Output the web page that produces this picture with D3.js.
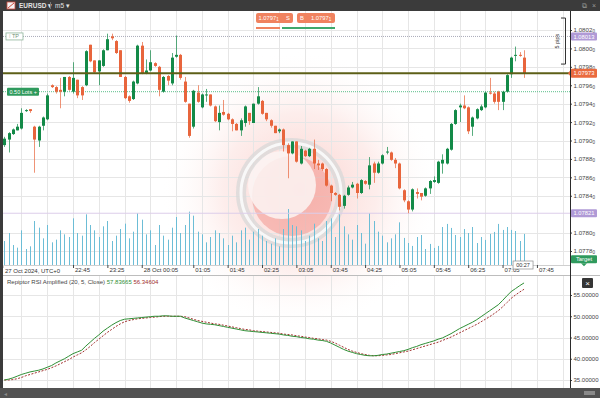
<!DOCTYPE html>
<html>
<head>
<meta charset="utf-8">
<script src="https://cdn.jsdelivr.net/npm/d3@7"></script>
<style>
  body { margin: 0; background: #fff; }
  svg { display: block; font-family: "Liberation Sans", Arial, sans-serif; }
</style>
</head>
<body>
<svg id="chart" width="600" height="398"></svg>
<script>
// EURUSD m5 candles, 27-28 Oct 2024 (UTC+0)
var symbol = 'EURUSD'
var timeframe = 'm5'
var firstCandle = '2024-10-27T21:25:00Z'

var opens = [
  1.07895, 1.07901, 1.07907, 1.07911, 1.07913, 1.07932, 1.07934, 1.07915, 1.07900, 1.07916,
  1.07923, 1.07960, 1.07958, 1.07955, 1.07953, 1.07969, 1.07953, 1.07966, 1.07958, 1.07960,
  1.08004, 1.07987, 1.07975, 1.07981, 1.07998, 1.08013, 1.08008, 1.07998, 1.07969, 1.07948,
  1.07945, 1.07962, 1.08003, 1.07973, 1.07976, 1.07984, 1.07980, 1.07953, 1.07970, 1.07962,
  1.07991, 1.07993, 1.07964, 1.07940, 1.07915, 1.07952, 1.07936, 1.07949, 1.07950, 1.07937,
  1.07920, 1.07931, 1.07929, 1.07923, 1.07918, 1.07911, 1.07919, 1.07930, 1.07919, 1.07940,
  1.07943, 1.07930, 1.07922, 1.07916, 1.07910, 1.07912, 1.07895, 1.07886, 1.07899, 1.07875,
  1.07889, 1.07883, 1.07891, 1.07875, 1.07875, 1.07869, 1.07851, 1.07843, 1.07841, 1.07829,
  1.07841, 1.07849, 1.07853, 1.07843, 1.07856, 1.07852, 1.07875, 1.07865, 1.07875, 1.07887,
  1.07887, 1.07879, 1.07875, 1.07846, 1.07834, 1.07825, 1.07844, 1.07843, 1.07840, 1.07848,
  1.07855, 1.07854, 1.07875, 1.07875, 1.07890, 1.07918, 1.07936, 1.07938, 1.07936, 1.07915,
  1.07924, 1.07933, 1.07936, 1.07952, 1.07951, 1.07953, 1.07942, 1.07953, 1.07972, 1.07992,
  1.07993, 1.07990
]
var highs = [
  1.07904, 1.07909, 1.07913, 1.07918, 1.07935, 1.07934, 1.07934, 1.07916, 1.07916, 1.07926,
  1.07951, 1.07961, 1.07959, 1.07968, 1.07969, 1.07970, 1.07985, 1.07966, 1.07959, 1.07998,
  1.08004, 1.07987, 1.07987, 1.07999, 1.08016, 1.08016, 1.08009, 1.07998, 1.07970, 1.07949,
  1.07965, 1.08004, 1.08007, 1.07988, 1.07998, 1.07985, 1.07981, 1.07970, 1.07971, 1.07995,
  1.08014, 1.07994, 1.07969, 1.07940, 1.07955, 1.07960, 1.07951, 1.07956, 1.07950, 1.07938,
  1.07938, 1.07944, 1.07930, 1.07924, 1.07919, 1.07924, 1.07938, 1.07930, 1.07940, 1.07958,
  1.07944, 1.07930, 1.07923, 1.07916, 1.07913, 1.07913, 1.07897, 1.07899, 1.07899, 1.07894,
  1.07890, 1.07892, 1.07901, 1.07879, 1.07876, 1.07870, 1.07852, 1.07844, 1.07842, 1.07841,
  1.07851, 1.07855, 1.07854, 1.07858, 1.07857, 1.07882, 1.07877, 1.07877, 1.07885, 1.07893,
  1.07888, 1.07881, 1.07876, 1.07847, 1.07835, 1.07848, 1.07848, 1.07843, 1.07849, 1.07857,
  1.07861, 1.07878, 1.07885, 1.07892, 1.07919, 1.07934, 1.07940, 1.07949, 1.07937, 1.07926,
  1.07935, 1.07939, 1.07953, 1.07968, 1.07953, 1.07954, 1.07954, 1.07972, 1.07991, 1.08002,
  1.07996, 1.07998
]
var lows = [
  1.07893, 1.07887, 1.07906, 1.07911, 1.07912, 1.07931, 1.07930, 1.07865, 1.07893, 1.07911,
  1.07922, 1.07957, 1.07951, 1.07935, 1.07948, 1.07954, 1.07951, 1.07946, 1.07944, 1.07959,
  1.07985, 1.07973, 1.07960, 1.07980, 1.07998, 1.08009, 1.07994, 1.07969, 1.07945, 1.07941,
  1.07944, 1.07961, 1.07972, 1.07972, 1.07975, 1.07980, 1.07948, 1.07952, 1.07960, 1.07960,
  1.07990, 1.07966, 1.07941, 1.07903, 1.07913, 1.07941, 1.07935, 1.07942, 1.07937, 1.07920,
  1.07911, 1.07927, 1.07922, 1.07910, 1.07911, 1.07905, 1.07915, 1.07917, 1.07919, 1.07939,
  1.07928, 1.07921, 1.07914, 1.07908, 1.07908, 1.07888, 1.07859, 1.07885, 1.07876, 1.07874,
  1.07882, 1.07882, 1.07869, 1.07868, 1.07867, 1.07850, 1.07834, 1.07840, 1.07824, 1.07826,
  1.07840, 1.07848, 1.07837, 1.07842, 1.07852, 1.07847, 1.07854, 1.07864, 1.07874, 1.07885,
  1.07878, 1.07870, 1.07847, 1.07833, 1.07821, 1.07823, 1.07837, 1.07835, 1.07839, 1.07842,
  1.07854, 1.07853, 1.07864, 1.07874, 1.07889, 1.07917, 1.07920, 1.07934, 1.07907, 1.07905,
  1.07923, 1.07932, 1.07935, 1.07950, 1.07940, 1.07933, 1.07933, 1.07952, 1.07968, 1.07986,
  1.07991, 1.07968
]
var closes = [
  1.07902, 1.07908, 1.07912, 1.07915, 1.07930, 1.07933, 1.07932, 1.07901, 1.07915, 1.07925,
  1.07949, 1.07958, 1.07953, 1.07953, 1.07969, 1.07955, 1.07968, 1.07949, 1.07949, 1.07997,
  1.07986, 1.07974, 1.07987, 1.07998, 1.08010, 1.08011, 1.07995, 1.07969, 1.07946, 1.07943,
  1.07964, 1.08003, 1.07973, 1.07976, 1.07985, 1.07981, 1.07955, 1.07969, 1.07965, 1.07990,
  1.07993, 1.07968, 1.07942, 1.07905, 1.07954, 1.07942, 1.07950, 1.07950, 1.07938, 1.07921,
  1.07930, 1.07928, 1.07923, 1.07918, 1.07911, 1.07922, 1.07937, 1.07921, 1.07940, 1.07948,
  1.07929, 1.07923, 1.07916, 1.07908, 1.07912, 1.07895, 1.07886, 1.07899, 1.07877, 1.07891,
  1.07883, 1.07891, 1.07875, 1.07873, 1.07869, 1.07851, 1.07843, 1.07841, 1.07828, 1.07840,
  1.07849, 1.07852, 1.07843, 1.07857, 1.07853, 1.07873, 1.07865, 1.07875, 1.07884, 1.07888,
  1.07879, 1.07875, 1.07848, 1.07835, 1.07825, 1.07847, 1.07842, 1.07839, 1.07848, 1.07856,
  1.07857, 1.07877, 1.07879, 1.07891, 1.07918, 1.07933, 1.07938, 1.07935, 1.07910, 1.07925,
  1.07934, 1.07937, 1.07952, 1.07951, 1.07942, 1.07942, 1.07953, 1.07971, 1.07990, 1.07993,
  1.07992, 1.07973
]
// tick volume
var volumes = [
  180, 240, 150, 130, 260, 120, 140, 330, 280, 200, 300, 170, 190, 260, 230, 210,
  350, 240, 220, 380, 300, 260, 210, 290, 330, 180, 220, 270, 310, 200, 250, 390,
  340, 230, 260, 150, 300, 220, 190, 280, 360, 240, 300, 400, 370, 250, 230, 170,
  210, 260, 240, 200, 150, 220, 170, 260, 280, 190, 250, 270, 220, 180, 160, 200,
  140, 270, 420, 300, 290, 260, 180, 220, 310, 200, 180, 330, 350, 210, 380, 290,
  230, 190, 300, 240, 160, 390, 330, 250, 220, 170, 200, 230, 320,
  203, 165, 143, 210, 225, 120, 158, 128, 143, 285, 308, 278, 225, 210, 270, 240,
  285, 165, 210, 188, 233, 248, 308, 263, 285, 263, 255, 180, 233
]
// Repiptor RSI Amplified (20, 5, Close)
var rsiFast = [
  35.0, 35.2, 35.5, 35.9, 36.3, 36.6, 36.9, 37.1, 37.3, 37.6, 38.0, 38.4, 39.0,
  39.5, 40.0, 40.6, 41.2, 41.6, 42.0, 43.0, 43.9, 44.8, 45.6, 46.5, 47.2,
  47.9, 48.5, 49.0, 49.3, 49.4, 49.5, 49.6, 49.7, 49.8, 49.9, 50.0, 50.0,
  50.1, 50.1, 50.0, 50.0, 50.0, 49.6, 49.3, 49.0, 48.7, 48.4, 48.2,
  48.1, 48.0, 47.8, 47.6, 47.4, 47.2, 47.0, 46.8, 46.6,
  46.5, 46.4, 46.3, 46.2, 46.1, 46.0, 45.9, 45.8, 45.6, 45.5,
  45.3, 45.2, 45.0, 44.9, 44.7, 44.6, 44.4, 44.3, 44.1, 43.7, 43.2, 42.7, 42.2,
  41.8, 41.5, 41.2, 41.0, 40.8, 40.7, 40.7, 40.8, 41.0,
  41.1, 41.3, 41.5, 41.7, 41.9, 42.2, 42.6, 42.9, 43.3,
  43.6, 43.9, 44.2, 44.6, 44.9, 45.4, 45.9, 46.5, 47.1, 47.6,
  48.1, 48.6, 49.2, 49.9, 50.6, 51.3, 52.0, 52.7, 53.7, 54.8, 55.8,
  56.5, 57.2, 57.84
]
var rsiSlow = [
  35.0, 35.0, 35.1, 35.3, 35.6, 36.0, 36.3, 36.6, 36.9, 37.2, 37.5, 37.9, 38.3,
  38.8, 39.3, 39.8, 40.4, 40.9, 41.4, 42.1, 42.9, 43.8, 44.6, 45.4, 46.2,
  46.9, 47.6, 48.2, 48.7, 49.0, 49.2, 49.4, 49.5, 49.6, 49.7, 49.8, 49.9,
  50.0, 50.0, 50.0, 50.0, 50.0, 49.9, 49.6, 49.3, 49.0, 48.8, 48.6,
  48.4, 48.2, 48.1, 47.9, 47.7, 47.5, 47.3, 47.1, 46.9,
  46.8, 46.6, 46.5, 46.4, 46.3, 46.2, 46.1, 46.0, 45.8, 45.7,
  45.6, 45.4, 45.3, 45.1, 45.0, 44.8, 44.7, 44.5, 44.4, 44.1, 43.7, 43.2, 42.7,
  42.2, 41.8, 41.5, 41.2, 41.0, 40.8, 40.7, 40.7, 40.8,
  40.9, 41.0, 41.2, 41.4, 41.6, 41.8, 42.1, 42.4, 42.7,
  43.0, 43.3, 43.6, 43.9, 44.3, 44.7, 45.1, 45.6, 46.1, 46.6,
  47.1, 47.6, 48.1, 48.7, 49.3, 49.9, 50.6, 51.3, 52.2, 53.2, 54.2,
  55.0, 55.7, 56.35
]
var rsiName = 'Repiptor RSI Amplified (20, 5, Close)'
var rsiFastLabel = '57.83665'
var rsiSlowLabel = '56.34604'

var priceTicks = [1.0802, 1.0800, 1.0798, 1.0796, 1.0794, 1.0792, 1.0790, 1.0788, 1.0786, 1.0784, 1.0780, 1.0778]
var rsiTicks = [55, 50, 45, 40, 35]
var timeTicks = [
  '2024-10-27T22:45:00Z', '2024-10-27T23:25:00Z', '2024-10-28T00:05:00Z', '2024-10-28T01:05:00Z',
  '2024-10-28T01:45:00Z', '2024-10-28T02:25:00Z', '2024-10-28T03:05:00Z', '2024-10-28T03:45:00Z',
  '2024-10-28T04:25:00Z', '2024-10-28T05:05:00Z', '2024-10-28T05:45:00Z', '2024-10-28T06:25:00Z',
  '2024-10-28T07:05:00Z', '2024-10-28T07:45:00Z'
]
var timeLabels = ['22:45', '23:25', '28 Oct 00:05', '01:05', '01:45', '02:25', '03:05', '03:45',
  '04:25', '05:05', '05:45', '06:25', '07:05', '07:45']
var startLabel = '27 Oct 2024, UTC+0'

// chart objects
var lastPrice = 1.07973
var takeProfit = 1.08013
var entryPrice = 1.07953
var lowerLine = 1.07821
var targetPrice = 1.07771
var pipRuler = [1.08033, 1.07983]
var countdown = '00:27'

var green = '#138a48'
var red = '#e8653c'

var svg = d3.select('#chart')
var plot = {left: 3, right: 570, top: 11, bottom: 265}
var rsiBox = {top: 276, bottom: 388}

var t0 = new Date(firstCandle)
var times = closes.map(function (d, i) { return d3.timeMinute.offset(t0, 5 * i) })

// scales
var x = d3.scaleTime()
  .domain([d3.timeSecond.offset(t0, -90), d3.timeSecond.offset(t0, 658.5 * 60)])
  .range([plot.left, plot.right])
var y = d3.scaleLinear().domain([1.0778, 1.0802]).range([251, 30])
var yVol = d3.scaleLinear().domain([0, 600]).range([plot.bottom, 185])
var yRsi = d3.scaleLinear().domain([35, 55]).range([380, 295])

// defs
var defs = svg.append('defs')
defs.append('clipPath').attr('id', 'clipMain').append('rect')
  .attr('x', plot.left).attr('y', plot.top)
  .attr('width', plot.right - plot.left).attr('height', plot.bottom - plot.top)
defs.append('clipPath').attr('id', 'clipRsi').append('rect')
  .attr('x', plot.left).attr('y', rsiBox.top)
  .attr('width', plot.right - plot.left).attr('height', rsiBox.bottom - rsiBox.top)
defs.append('clipPath').attr('id', 'clipAll').append('rect')
  .attr('x', plot.left).attr('y', plot.top)
  .attr('width', plot.right - plot.left).attr('height', rsiBox.bottom - plot.top)
var glow = defs.append('radialGradient').attr('id', 'glow')
glow.append('stop').attr('offset', '0%').attr('stop-color', '#f48a80').attr('stop-opacity', 0.4)
glow.append('stop').attr('offset', '55%').attr('stop-color', '#f7b8b1').attr('stop-opacity', 0.25)
glow.append('stop').attr('offset', '100%').attr('stop-color', '#ffffff').attr('stop-opacity', 0)

// watermark glow
svg.append('g').attr('clip-path', 'url(#clipAll)')
  .append('circle')
  .attr('cx', 300).attr('cy', 190).attr('r', 140)
  .attr('fill', 'url(#glow)')

// grid
var gridTimes = d3.range(4, 134, 6).map(function (i) { return d3.timeMinute.offset(t0, 5 * i) })
var grid = svg.append('g').attr('stroke', '#e6e6e6').attr('stroke-width', 1)
grid.selectAll('.hg').data(priceTicks).join('line')
  .attr('x1', plot.left).attr('x2', plot.right)
  .attr('y1', function (d) { return Math.round(y(d)) + 0.5 })
  .attr('y2', function (d) { return Math.round(y(d)) + 0.5 })
grid.selectAll('.hr').data(rsiTicks).join('line')
  .attr('x1', plot.left).attr('x2', plot.right)
  .attr('y1', function (d) { return Math.round(yRsi(d)) + 0.5 })
  .attr('y2', function (d) { return Math.round(yRsi(d)) + 0.5 })
grid.selectAll('.vg').data(gridTimes).join('line')
  .attr('x1', function (d) { return Math.round(x(d)) + 0.5 })
  .attr('x2', function (d) { return Math.round(x(d)) + 0.5 })
  .attr('y1', plot.top).attr('y2', plot.bottom)
grid.selectAll('.vr').data(gridTimes).join('line')
  .attr('x1', function (d) { return Math.round(x(d)) + 0.5 })
  .attr('x2', function (d) { return Math.round(x(d)) + 0.5 })
  .attr('y1', rsiBox.top).attr('y2', rsiBox.bottom)

// watermark logo: grey ring with a red crescent inside
var logo = svg.append('g').attr('clip-path', 'url(#clipMain)')
logo.append('circle').attr('cx', 292).attr('cy', 196).attr('r', 40)
  .attr('fill', '#f29088').attr('opacity', 0.5)
logo.append('circle').attr('cx', 282).attr('cy', 185).attr('r', 34)
  .attr('fill', '#fbf4f3').attr('opacity', 0.85)
logo.append('circle').attr('cx', 291).attr('cy', 193).attr('r', 50)
  .attr('fill', 'none').attr('stroke', '#d8d8d8').attr('stroke-width', 10).attr('opacity', 0.75)
logo.append('circle').attr('cx', 291).attr('cy', 193).attr('r', 50)
  .attr('fill', 'none').attr('stroke', '#fbfbfb').attr('stroke-width', 3).attr('opacity', 0.9)

// volume
svg.append('g').attr('clip-path', 'url(#clipMain)')
  .selectAll('line').data(volumes).join('line')
  .attr('x1', function (d, i) { return Math.round(x(times[i])) + 0.5 })
  .attr('x2', function (d, i) { return Math.round(x(times[i])) + 0.5 })
  .attr('y1', plot.bottom)
  .attr('y2', function (d) { return yVol(d) })
  .attr('stroke', '#6cbdd6').attr('stroke-width', 1)

// horizontal chart objects
var objs = svg.append('g').attr('clip-path', 'url(#clipMain)')
objs.append('line')
  .attr('x1', plot.left).attr('x2', plot.right)
  .attr('y1', y(takeProfit)).attr('y2', y(takeProfit))
  .attr('stroke', '#a9aab8').attr('stroke-width', 1).attr('stroke-dasharray', '1,1')
objs.append('line')
  .attr('x1', plot.left).attr('x2', plot.right)
  .attr('y1', y(entryPrice)).attr('y2', y(entryPrice))
  .attr('stroke', '#5cbf8c').attr('stroke-width', 1).attr('stroke-dasharray', '1,1')
objs.append('line')
  .attr('x1', plot.left).attr('x2', plot.right)
  .attr('y1', y(lowerLine)).attr('y2', y(lowerLine))
  .attr('stroke', '#dccdea').attr('stroke-width', 1)

// candles
var candles = svg.append('g').attr('clip-path', 'url(#clipMain)')
  .selectAll('g').data(closes).join('g')
candles.append('line')
  .attr('x1', function (d, i) { return Math.round(x(times[i])) + 0.5 })
  .attr('x2', function (d, i) { return Math.round(x(times[i])) + 0.5 })
  .attr('y1', function (d, i) { return y(highs[i]) })
  .attr('y2', function (d, i) { return y(lows[i]) })
  .attr('stroke', function (d, i) { return d >= opens[i] ? green : red })
  .attr('stroke-opacity', 0.7)
candles.append('rect')
  .attr('x', function (d, i) { return Math.round(x(times[i])) - 1 })
  .attr('width', 3)
  .attr('y', function (d, i) { return y(Math.max(d, opens[i])) })
  .attr('height', function (d, i) { return Math.max(1, Math.abs(y(d) - y(opens[i]))) })
  .attr('fill', function (d, i) { return d >= opens[i] ? green : red })

// current price line
svg.append('line')
  .attr('x1', plot.left).attr('x2', plot.right)
  .attr('y1', y(lastPrice)).attr('y2', y(lastPrice))
  .attr('stroke', '#5d5f17').attr('stroke-width', 2)

// left-side labels
var tp = svg.append('g')
tp.append('rect').attr('x', 6).attr('y', y(takeProfit) - 3.5).attr('width', 17).attr('height', 7)
  .attr('fill', '#fff').attr('stroke', '#8fb59b').attr('stroke-width', 0.8)
tp.append('text').attr('x', 9).attr('y', y(takeProfit) + 2)
  .attr('font-size', 5.5).attr('fill', '#6f8f78').text('⁞ TP')
var lots = svg.append('g')
lots.append('rect').attr('x', 7).attr('y', y(entryPrice) - 4).attr('width', 32).attr('height', 8)
  .attr('fill', '#2f9a5d').attr('rx', 1)
lots.append('text').attr('x', 9.5).attr('y', y(entryPrice) + 2)
  .attr('font-size', 5.5).attr('fill', '#fff').text('0.50 Lots +')

// pip ruler
var ruler = svg.append('g')
ruler.append('path')
  .attr('d', 'M561,' + y(pipRuler[0]) + 'H565.5V' + y(pipRuler[1]) + 'H561')
  .attr('fill', 'none').attr('stroke', '#333').attr('stroke-width', 1)
ruler.append('text')
  .attr('transform', 'translate(559,' + ((y(pipRuler[0]) + y(pipRuler[1])) / 2) + ') rotate(-90)')
  .attr('text-anchor', 'middle').attr('font-size', 5.5).attr('fill', '#333').text('5 pips')

// time axis
var xAxis = d3.axisBottom(x)
  .tickValues(timeTicks.map(function (d) { return new Date(d) }))
  .tickSize(3)
  .tickFormat(function (d, i) { return timeLabels[i] })
var gx = svg.append('g').attr('transform', 'translate(0,' + plot.bottom + ')').call(xAxis)
gx.select('.domain').attr('stroke', '#cfcfcf')
gx.selectAll('.tick line').attr('stroke', '#444')
gx.selectAll('.tick text')
  .attr('text-anchor', 'start').attr('x', 1.5).attr('y', 2.5)
  .attr('font-size', 6).attr('fill', '#333')
  .attr('font-family', '"Liberation Sans", Arial, sans-serif')
svg.append('text').attr('x', 5).attr('y', 272.5)
  .attr('font-size', 6).attr('fill', '#333').text(startLabel)

// price axis
var yAxis = d3.axisRight(y).tickValues(priceTicks).tickSize(2)
  .tickFormat(function (d) { return d.toFixed(4) })
var gy = svg.append('g').attr('transform', 'translate(' + plot.right + ',0)').call(yAxis)
gy.select('.domain').remove()
gy.selectAll('.tick line').attr('stroke', '#444')
gy.selectAll('.tick text')
  .attr('x', 3.5).attr('font-size', 6.2).attr('fill', '#444')
  .attr('font-family', '"Liberation Sans", Arial, sans-serif')
  .append('tspan').attr('font-size', 4.5).attr('dy', 1).text('0')

// rsi axis
var rAxis = d3.axisRight(yRsi).tickValues(rsiTicks).tickSize(2)
  .tickFormat(function (d) { return d.toFixed(5) })
var gr = svg.append('g').attr('transform', 'translate(' + plot.right + ',0)').call(rAxis)
gr.select('.domain').remove()
gr.selectAll('.tick line').attr('stroke', '#444')
gr.selectAll('.tick text')
  .attr('x', 3.5).attr('font-size', 6).attr('fill', '#444')
  .attr('font-family', '"Liberation Sans", Arial, sans-serif')

// price tags on the axis
function tag (price, label, fill, h) {
  var g = svg.append('g')
  g.append('rect').attr('x', 571).attr('y', y(price) - h / 2).attr('width', 26).attr('height', h)
    .attr('fill', fill).attr('rx', 1)
  g.append('text').attr('x', 584).attr('y', y(price) + 2.1).attr('text-anchor', 'middle')
    .attr('font-size', 5.8).attr('fill', '#fff').text(label)
  return g
}
tag(takeProfit, '1.08013', '#b09ad6', 8)
tag(lowerLine, '1.07821', '#b09ad6', 8)
tag(lastPrice, '1.07973', '#ea6a3e', 9)
  .append('path')
  .attr('d', 'M568,' + y(lastPrice) + 'L571.5,' + (y(lastPrice) - 4.5) + 'V' + (y(lastPrice) + 4.5) + 'Z')
  .attr('fill', '#ea6a3e')
var target = tag(targetPrice, 'Target', '#2f9a5d', 8)
target.append('path')
  .attr('d', 'M581,' + (y(targetPrice) + 4) + 'H587L584,' + (y(targetPrice) + 7) + 'Z')
  .attr('fill', '#2f9a5d')

// countdown box under the last candle
var lastX = x(times[times.length - 1])
svg.append('rect').attr('x', lastX - 11).attr('y', 261).attr('width', 20).attr('height', 8)
  .attr('fill', '#fff').attr('stroke', '#8a8a8a').attr('stroke-width', 0.7)
svg.append('text').attr('x', lastX - 1).attr('y', 267.2).attr('text-anchor', 'middle')
  .attr('font-size', 5.5).attr('fill', '#333').text(countdown)

// rsi lines
var rsiLine = d3.line()
  .x(function (d, i) { return x(times[i]) })
  .y(function (d) { return yRsi(d) })
var rsiG = svg.append('g').attr('clip-path', 'url(#clipRsi)')
rsiG.append('path').datum(rsiSlow)
  .attr('fill', 'none').attr('stroke', '#a1302e').attr('stroke-width', 1)
  .attr('stroke-dasharray', '2,1.5').attr('d', rsiLine)
rsiG.append('path').datum(rsiFast)
  .attr('fill', 'none').attr('stroke', '#2f8f35').attr('stroke-width', 1)
  .attr('d', rsiLine)

var rsiTitle = svg.append('text').attr('x', 7).attr('y', 284).attr('font-size', 6)
rsiTitle.append('tspan').attr('fill', '#444').text(rsiName + ' ')
rsiTitle.append('tspan').attr('fill', '#2f8f35').text(rsiFastLabel + ' ')
rsiTitle.append('tspan').attr('fill', '#a1302e').text(rsiSlowLabel)

// frame
svg.append('line').attr('x1', plot.left).attr('x2', 600).attr('y1', 275.5).attr('y2', 275.5)
  .attr('stroke', '#bdbdbd')
svg.append('line').attr('x1', plot.right + 0.5).attr('x2', plot.right + 0.5)
  .attr('y1', plot.top).attr('y2', rsiBox.bottom).attr('stroke', '#2b2b2b')
svg.append('rect').attr('x', 0).attr('y', 0).attr('width', 600).attr('height', plot.top).attr('fill', '#3b3b3b')
svg.append('rect').attr('x', 0).attr('y', 0).attr('width', plot.left).attr('height', 398).attr('fill', '#3b3b3b')
svg.append('rect').attr('x', 0).attr('y', rsiBox.bottom).attr('width', 600).attr('height', 10).attr('fill', '#525252')
svg.append('text').attr('x', 4).attr('y', 395.5).attr('font-size', 6).attr('fill', '#8a8a8a').text('◂')
svg.append('rect').attr('x', 584).attr('y', 391).attr('width', 11).attr('height', 4).attr('fill', '#8a8a8a')

// header
svg.append('rect').attr('x', 7).attr('y', 2).attr('width', 8).attr('height', 7)
  .attr('fill', '#f4f4f4').attr('stroke', '#d04a3a').attr('stroke-width', 0.8)
svg.append('path').attr('d', 'M8,8L14,3').attr('stroke', '#d04a3a').attr('stroke-width', 1)
svg.append('text').attr('x', 19).attr('y', 8.3).attr('font-size', 6.5).attr('font-weight', 'bold')
  .attr('fill', '#e2e2e2').text(symbol + ' ▾')
svg.append('line').attr('x1', 50.5).attr('x2', 50.5).attr('y1', 2).attr('y2', 9).attr('stroke', '#777')
svg.append('text').attr('x', 55).attr('y', 8.3).attr('font-size', 6.5)
  .attr('fill', '#e2e2e2').text(timeframe + ' ▾')
svg.append('text').attr('x', 582).attr('y', 8.3).attr('font-size', 7).attr('fill', '#9a9a9a').text('⧉')
svg.append('text').attr('x', 592).attr('y', 8.3).attr('font-size', 7).attr('fill', '#9a9a9a').text('×')

// quick trade buttons
var qt = svg.append('g').attr('font-size', 5.8).attr('fill', '#fff')
qt.append('rect').attr('x', 256).attr('y', 13).attr('width', 37).attr('height', 10).attr('rx', 2).attr('fill', '#f0825f')
qt.append('rect').attr('x', 297).attr('y', 13).attr('width', 38).attr('height', 10).attr('rx', 2).attr('fill', '#f0825f')
qt.append('text').attr('x', 258.5).attr('y', 20.2).text('1.0797').append('tspan').attr('font-size', 4.5).attr('dy', 1).text('1')
qt.append('text').attr('x', 286).attr('y', 20.2).text('S')
qt.append('text').attr('x', 300).attr('y', 20.2).text('B')
qt.append('text').attr('x', 311).attr('y', 20.2).text('1.0797').append('tspan').attr('font-size', 4.5).attr('dy', 1).text('1')
qt.append('rect').attr('x', 256).attr('y', 27).attr('width', 24).attr('height', 2).attr('fill', '#f0825f')
qt.append('rect').attr('x', 282).attr('y', 27).attr('width', 53).attr('height', 2).attr('fill', '#3ea86c')

// close button of the indicator panel
svg.append('rect').attr('x', 582).attr('y', 278).attr('width', 11).attr('height', 10).attr('rx', 1).attr('fill', '#353535')
svg.append('text').attr('x', 587.5).attr('y', 286).attr('text-anchor', 'middle')
  .attr('font-size', 8).attr('fill', '#fff').text('×')
</script>
</body>
</html>
